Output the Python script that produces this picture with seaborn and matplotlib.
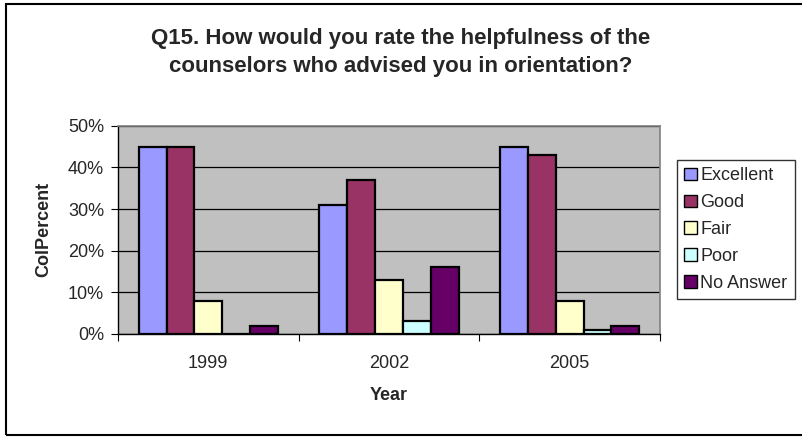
import matplotlib
matplotlib.use("Agg")
import matplotlib.pyplot as plt
import matplotlib.patches as mpatches
import seaborn as sns
import pandas as pd

years = ["1999", "2002", "2005"]
ratings = ["Excellent", "Good", "Fair", "Poor", "No Answer"]
excellent = [45, 31, 45]
good = [45, 37, 43]
fair = [8, 13, 8]
poor = [0, 3, 1]
no_answer = [2, 16, 2]
colors = ["#9999FF", "#993366", "#FFFFCC", "#CCFFFF", "#660066"]
yticks = [0, 10, 20, 30, 40, 50]

series = [excellent, good, fair, poor, no_answer]
rows = []
for rating, vals in zip(ratings, series):
    for yr, v in zip(years, vals):
        rows.append({"Year": yr, "Rating": rating, "ColPercent": v})
df = pd.DataFrame(rows)

sns.set_theme(style="white")
plt.rcParams["font.family"] = ["Liberation Sans", "DejaVu Sans"]

FS = 13

fig = plt.figure(figsize=(8.02, 4.37), dpi=100)
ax = fig.add_axes([0.147, 0.236, 0.676, 0.476])
ax.set_facecolor("#C0C0C0")

sns.barplot(data=df, x="Year", y="ColPercent", hue="Rating", order=years,
            hue_order=ratings, palette=colors, saturation=1, width=0.77,
            edgecolor="black", linewidth=1.6, ax=ax, legend=False, errorbar=None)

ax.set_ylim(0, 50)
ax.set_xlim(-0.5, 2.5)
ax.set_yticks(yticks)
ax.set_yticklabels([f"{t}%" for t in yticks], fontsize=FS)
ax.yaxis.grid(True, color="black", linewidth=0.9)
ax.set_axisbelow(True)
ax.tick_params(axis="y", which="major", direction="out", length=5, width=0.8,
               color="black", left=True, pad=5)
ax.tick_params(axis="x", which="major", length=0, labelsize=FS, pad=15)
ax.set_xticks([-0.5, 0.5, 1.5, 2.5], minor=True)
ax.tick_params(axis="x", which="minor", direction="out", length=5, width=0.8,
               color="black", bottom=True)

for side in ["top", "right"]:
    ax.spines[side].set_color("#808080")
    ax.spines[side].set_linewidth(1.2)
for side in ["left", "bottom"]:
    ax.spines[side].set_color("black")
    ax.spines[side].set_linewidth(1.0)

ax.set_xlabel("Year", fontsize=FS, fontweight="bold", labelpad=11)
ax.set_ylabel("ColPercent", fontsize=FS, fontweight="bold", labelpad=11)

fig.text(0.499, 0.879, "Q15. How would you rate the helpfulness of the\n"
         "counselors who advised you in orientation?",
         ha="center", va="center", fontsize=16, fontweight="bold",
         linespacing=1.45)

handles = [mpatches.Patch(facecolor=c, edgecolor="black", linewidth=1.0, label=r)
           for c, r in zip(colors, ratings)]
leg = fig.legend(handles=handles, loc="upper left",
                 bbox_to_anchor=(677 / 802, 1 - 160 / 437),
                 fontsize=FS, frameon=True, fancybox=False, edgecolor="black",
                 handlelength=0.7, handleheight=0.7, handletextpad=0.2,
                 labelspacing=0.55, borderpad=0.4, borderaxespad=0)
leg.get_frame().set_linewidth(1.0)

fig.add_artist(mpatches.Rectangle((6 / 802, 2 / 437), 1.0, 1 - 6 / 437,
                                  transform=fig.transFigure, fill=False,
                                  edgecolor="black", linewidth=1.5))

fig.savefig("out.png", dpi=100)
